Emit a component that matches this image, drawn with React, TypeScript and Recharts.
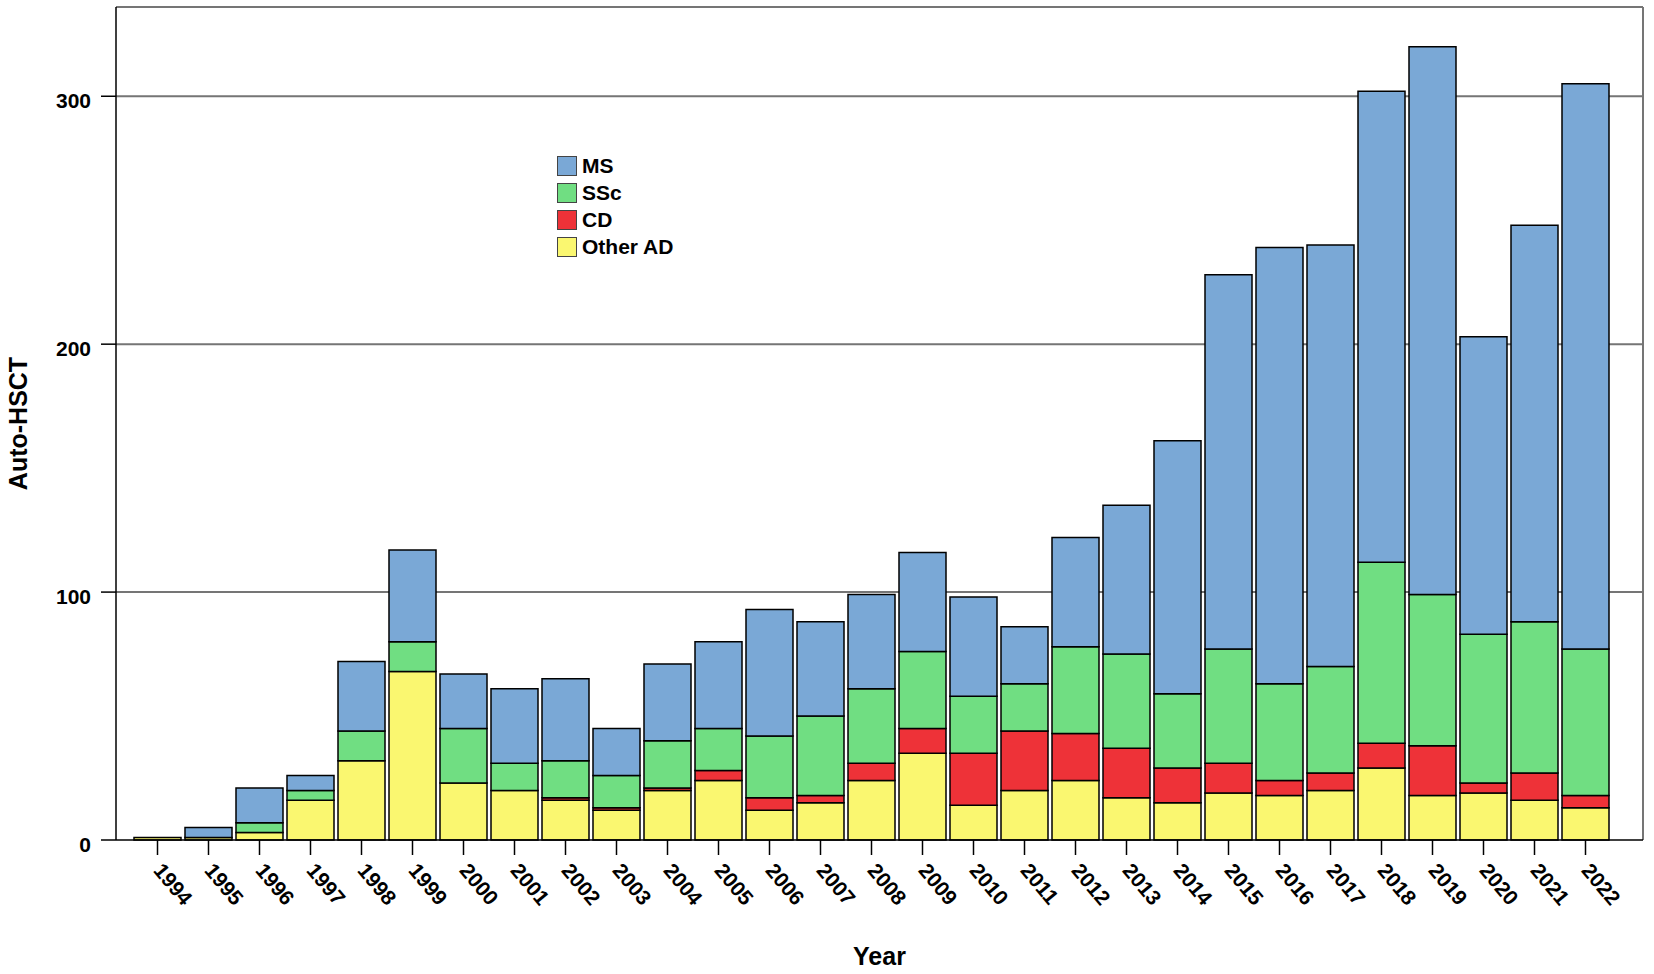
import { Bar, BarChart, CartesianGrid, Legend, XAxis, YAxis } from 'recharts';

const years = [
  '1994', '1995', '1996', '1997', '1998', '1999', '2000', '2001', '2002', '2003',
  '2004', '2005', '2006', '2007', '2008', '2009', '2010', '2011', '2012', '2013',
  '2014', '2015', '2016', '2017', '2018', '2019', '2020', '2021', '2022',
];
const otherAD = [1, 1, 3, 16, 32, 68, 23, 20, 16, 12, 20, 24, 12, 15, 24, 35, 14, 20, 24, 17, 15, 19, 18, 20, 29, 18, 19, 16, 13];
const cd = [0, 0, 0, 0, 0, 0, 0, 0, 1, 1, 1, 4, 5, 3, 7, 10, 21, 24, 19, 20, 14, 12, 6, 7, 10, 20, 4, 11, 5];
const ssc = [0, 0, 4, 4, 12, 12, 22, 11, 15, 13, 19, 17, 25, 32, 30, 31, 23, 19, 35, 38, 30, 46, 39, 43, 73, 61, 60, 61, 59];
const ms = [0, 4, 14, 6, 28, 37, 22, 30, 33, 19, 31, 35, 51, 38, 38, 40, 40, 23, 44, 60, 102, 151, 176, 170, 190, 221, 120, 160, 228];

const yTicks = [0, 100, 200, 300];
const yMax = 336;

// stacking order, bottom to top
const series = [
  { key: 'other', name: 'Other AD', color: '#FAF770' },
  { key: 'cd', name: 'CD', color: '#EE3238' },
  { key: 'ssc', name: 'SSc', color: '#70DE82' },
  { key: 'ms', name: 'MS', color: '#7AA8D6' },
];

const data = years.map((year, i) => ({
  year,
  other: otherAD[i],
  cd: cd[i],
  ssc: ssc[i],
  ms: ms[i],
}));

const FONT = "'Liberation Sans', Arial, sans-serif";

function XTick({ x, y, payload }: any) {
  const ax = x - 5;
  const ay = y + 16;
  return (
    <text
      x={ax}
      y={ay}
      transform={`rotate(50, ${ax}, ${ay})`}
      textAnchor="start"
      fontFamily={FONT}
      fontWeight="bold"
      fontSize={21}
      fill="#000"
    >
      {payload.value}
    </text>
  );
}

function YTick({ x, y, payload }: any) {
  return (
    <text x={x} y={y + 11.5} textAnchor="end" fontFamily={FONT} fontWeight="bold" fontSize={21} fill="#000">
      {payload.value}
    </text>
  );
}

function LegendBox() {
  return (
    <div style={{ fontFamily: FONT, fontWeight: 'bold', fontSize: 21, color: '#000' }}>
      {[...series].reverse().map((s) => (
        <div key={s.key} style={{ display: 'flex', alignItems: 'center', height: 27 }}>
          <span
            style={{
              display: 'inline-block',
              width: 18,
              height: 18,
              background: s.color,
              border: '1.5px solid #444',
              marginRight: 5,
            }}
          />
          <span style={{ lineHeight: '27px' }}>{s.name}</span>
        </div>
      ))}
    </div>
  );
}

const horizontalLines = ({ yAxis, offset }: any) => {
  const scale = yAxis && yAxis.scale;
  const pts = yTicks
    .filter((t) => t > 0)
    .map((t) =>
      typeof scale === 'function' ? scale(t) : offset.top + offset.height * (1 - t / yMax),
    );
  return [offset.top, ...pts];
};

const verticalLines = ({ offset }: any) => [offset.left + offset.width];

export default function App() {
  return (
    <div style={{ position: 'absolute', left: 0, top: 0, background: '#fff' }}>
      <BarChart
        width={1654}
        height={974}
        data={data}
        margin={{ top: 7, right: 11, left: 0, bottom: 0 }}
        barSize={47}
      >
        <CartesianGrid
          stroke="#757575"
          strokeWidth={2}
          horizontalCoordinatesGenerator={horizontalLines}
          verticalCoordinatesGenerator={verticalLines}
        />
        <XAxis
          dataKey="year"
          interval={0}
          height={134}
          padding={{ left: 16, right: 32 }}
          tickSize={15}
          tickMargin={0}
          axisLine={{ stroke: '#000', strokeWidth: 1.5 }}
          tickLine={{ stroke: '#000', strokeWidth: 1.5 }}
          tick={<XTick />}
          label={{
            content: ({ viewBox }: any) => (
              <text
                x={viewBox.x + viewBox.width / 2}
                y={viewBox.y + 125}
                textAnchor="middle"
                fontFamily={FONT}
                fontWeight="bold"
                fontSize={25}
                fill="#000"
              >
                Year
              </text>
            ),
          }}
        />
        <YAxis
          width={116}
          domain={[0, yMax]}
          ticks={yTicks}
          interval={0}
          tickSize={15}
          tickMargin={10}
          axisLine={{ stroke: '#000', strokeWidth: 1.5 }}
          tickLine={{ stroke: '#000', strokeWidth: 1.5 }}
          tick={<YTick />}
          label={{
            content: ({ viewBox }: any) => {
              const lx = viewBox.x + 27;
              const ly = viewBox.y + viewBox.height / 2;
              return (
                <text
                  x={lx}
                  y={ly}
                  transform={`rotate(-90, ${lx}, ${ly})`}
                  textAnchor="middle"
                  fontFamily={FONT}
                  fontWeight="bold"
                  fontSize={25}
                  fill="#000"
                >
                  Auto-HSCT
                </text>
              );
            },
          }}
        />
        <Legend
          layout="vertical"
          align="center"
          verticalAlign="middle"
          content={<LegendBox />}
          wrapperStyle={{ left: 557, top: 152, width: 'auto', height: 'auto' }}
        />
        {series.map((s) => (
          <Bar
            key={s.key}
            dataKey={s.key}
            name={s.name}
            stackId="a"
            fill={s.color}
            stroke="#000"
            strokeWidth={1.5}
            isAnimationActive={false}
          />
        ))}
      </BarChart>
    </div>
  );
}
